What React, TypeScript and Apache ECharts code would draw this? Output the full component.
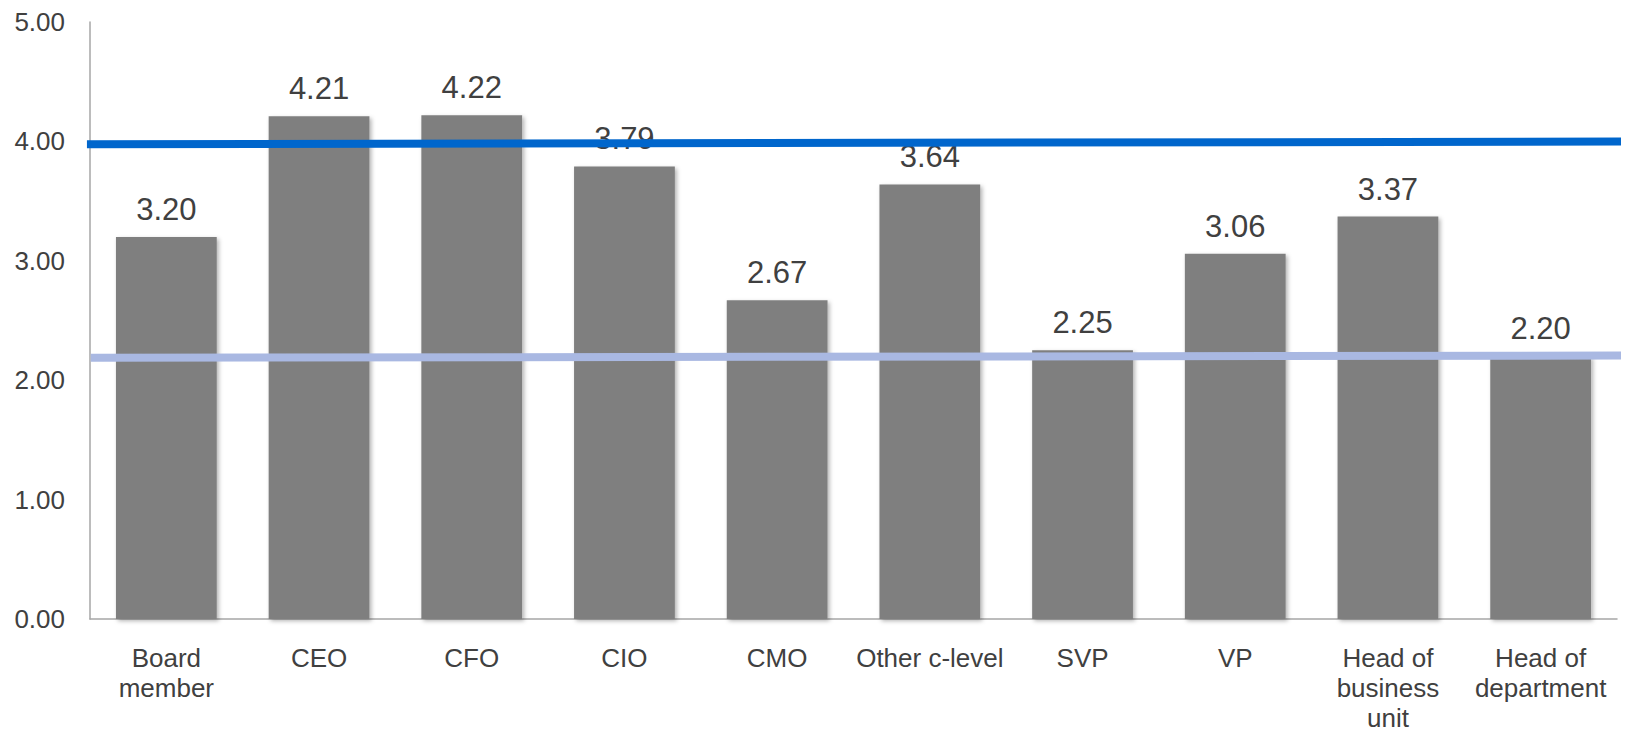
import React, { useEffect, useRef } from "react";
import * as echarts from "echarts";

const categories = [
  "Board\nmember",
  "CEO",
  "CFO",
  "CIO",
  "CMO",
  "Other c-level",
  "SVP",
  "VP",
  "Head of\nbusiness\nunit",
  "Head of\ndepartment",
];
const values = [3.2, 4.21, 4.22, 3.79, 2.67, 3.64, 2.25, 3.06, 3.37, 2.2];
const yTicks = [0, 1, 2, 3, 4, 5];
// reference lines: [position along categories (0..10), value]
const upperLine: [number, number][] = [
  [-0.02, 3.976],
  [10.03, 3.999],
];
const lowerLine: [number, number][] = [
  [0.005, 2.188],
  [10.05, 2.207],
];

const FONT = "'Liberation Sans', Arial, Helvetica, sans-serif";

export default function App() {
  const ref = useRef<HTMLDivElement>(null);
  useEffect(() => {
    if (!ref.current) return;
    const chart = echarts.init(ref.current, undefined, { renderer: "svg" });
    chart.setOption({
      animation: false,
      backgroundColor: "#ffffff",
      grid: { left: 90, right: 8, top: 22, bottom: 113, containLabel: false },
      xAxis: [
        {
          type: "category",
          data: categories,
          axisLine: { show: true, lineStyle: { color: "#a6a6a6", width: 1.5 } },
          axisTick: { show: false },
          axisLabel: {
            color: "#404040",
            fontSize: 26,
            fontFamily: FONT,
            lineHeight: 30,
            margin: 24,
            interval: 0,
          },
        },
        {
          type: "value",
          min: 0,
          max: 10,
          show: false,
        },
      ],
      yAxis: {
        type: "value",
        min: yTicks[0],
        max: yTicks[yTicks.length - 1],
        interval: 1,
        axisLine: { show: true, lineStyle: { color: "#a6a6a6", width: 1.5 } },
        axisTick: { show: false },
        splitLine: { show: false },
        axisLabel: {
          color: "#404040",
          fontSize: 26,
          fontFamily: FONT,
          margin: 25,
          formatter: (v: number) => v.toFixed(2),
        },
      },
      series: [
        {
          type: "bar",
          xAxisIndex: 0,
          data: values,
          barCategoryGap: "34%",
          z: 2,
          itemStyle: {
            color: "#7f7f7f",
            shadowBlur: 4,
            shadowColor: "rgba(0,0,0,0.3)",
            shadowOffsetX: 2,
            shadowOffsetY: 2,
          },
          label: {
            show: true,
            position: "top",
            distance: 12,
            color: "#404040",
            fontSize: 31,
            fontFamily: FONT,
            formatter: (p: any) => Number(p.value).toFixed(2),
          },
        },
        {
          type: "line",
          xAxisIndex: 1,
          data: upperLine,
          symbol: "none",
          clip: false,
          z: 10,
          lineStyle: { color: "#0066cc", width: 8 },
        },
        {
          type: "line",
          xAxisIndex: 1,
          data: lowerLine,
          symbol: "none",
          clip: false,
          z: 10,
          lineStyle: { color: "#a9b8e2", width: 8 },
        },
      ],
    });
    return () => chart.dispose();
  }, []);
  return (
    <div
      ref={ref}
      style={{ position: "absolute", left: 0, top: 0, width: 1625, height: 733 }}
    />
  );
}
